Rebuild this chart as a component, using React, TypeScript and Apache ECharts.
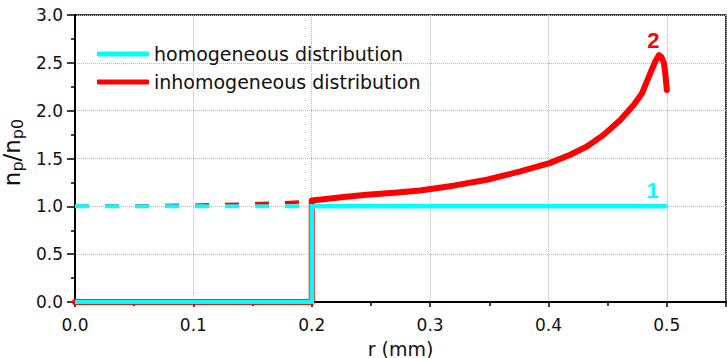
import React, { useEffect, useRef } from "react";
import * as echarts from "echarts";

// Homogeneous profile (curve 1): zero inside r < 0.2 mm, unity outside
const homR = [0, 0.2, 0.2, 0.5];
const homN = [0, 0, 1, 1];
const homDashR = [0, 0.2];
const homDashN = [1, 1];

// Inhomogeneous profile (curve 2)
const inhomR = [
  0, 0.2, 0.2, 0.21, 0.225, 0.2465, 0.27, 0.2916, 0.3198, 0.348, 0.3762,
  0.4009, 0.4184, 0.4325, 0.4466, 0.4607, 0.472, 0.479, 0.486, 0.4905, 0.4933,
  0.4955, 0.4975, 0.4988, 0.5,
];
const inhomN = [
  0, 0, 1.06, 1.075, 1.094, 1.12, 1.142, 1.165, 1.216, 1.278, 1.365, 1.452,
  1.539, 1.625, 1.747, 1.903, 2.059, 2.18, 2.39, 2.52, 2.58, 2.56, 2.5, 2.38,
  2.215,
];
const inhomDashR = [0, 0.05, 0.1, 0.15, 0.2];
const inhomDashN = [1.0, 1.005, 1.012, 1.025, 1.05];

// Curve number labels
const curveLabels = [
  { text: "1", r: 0.488, n: 1.17, color: "#00ffff" },
  { text: "2", r: 0.4886, n: 2.735, color: "#ff0000" },
];

const legendNames = ["homogeneous distribution", "inhomogeneous distribution"];

const pairs = (xs: number[], ys: number[]) => xs.map((x, i) => [x, ys[i]]);

const FONT = "DejaVu Sans";
const CYAN = "#00ffff";
const RED = "#ff0000";

export default function App() {
  const ref = useRef<HTMLDivElement>(null);

  useEffect(() => {
    document.body.style.margin = "0";
    document.body.style.overflow = "hidden";
    if (!ref.current) return;
    const chart = echarts.init(ref.current, null, { renderer: "svg" });

    const markLabel = (l: (typeof curveLabels)[number]) => ({
      silent: true,
      symbol: "circle",
      symbolSize: 1,
      itemStyle: { color: "transparent" },
      data: [
        {
          coord: [l.r, l.n],
          label: {
            show: true,
            position: "inside",
            formatter: l.text,
            color: l.color,
            fontFamily: "Liberation Sans",
            fontWeight: "bold",
            fontSize: 22,
          },
        },
      ],
    });

    chart.setOption({
      animation: false,
      backgroundColor: "#ffffff",
      grid: {
        left: 75,
        right: 1,
        top: 15,
        bottom: 56,
        outerBoundsMode: "none",
        containLabel: false,
        show: true,
        borderColor: "#000",
        borderWidth: 1.5,
        backgroundColor: "transparent",
      },
      legend: {
        data: legendNames,
        orient: "vertical",
        left: 92,
        top: 39,
        itemWidth: 52,
        itemHeight: 5,
        itemGap: 8,
        icon: "roundRect",
        textStyle: {
          fontFamily: FONT,
          fontSize: 19,
          lineHeight: 20,
          color: "#111",
        },
      },
      xAxis: {
        type: "value",
        min: 0,
        max: 0.55,
        interval: 0.1,
        name: "r (mm)",
        nameLocation: "middle",
        nameGap: 37,
        nameTextStyle: { fontFamily: FONT, fontSize: 19, color: "#111" },
        axisLine: { show: true, onZero: false, lineStyle: { color: "#000", width: 2 } },
        axisTick: { show: true, inside: false, length: 5, lineStyle: { color: "#000", width: 1.5 } },
        minorTick: { show: true, splitNumber: 2, length: 4, lineStyle: { color: "#000", width: 1.5 } },
        axisLabel: {
          margin: 14,
          fontFamily: FONT,
          fontSize: 17,
          color: "#111",
          formatter: (v: number) => v.toFixed(1),
          showMaxLabel: false,
        },
        splitLine: { show: true, lineStyle: { color: "#bbbbbb", type: "dotted", width: 1 } },
      },
      yAxis: {
        type: "value",
        min: 0,
        max: 3,
        interval: 0.5,
        name: "{a|n}{b|p}{a|/n}{b|p0}",
        nameLocation: "middle",
        nameGap: 38,
        nameRotate: 90,
        nameTextStyle: {
          padding: [0, 0, 0, 12],
          rich: {
            a: { fontFamily: FONT, fontSize: 23, lineHeight: 26, color: "#111", verticalAlign: "middle" },
            b: { fontFamily: FONT, fontSize: 16, lineHeight: 16, color: "#111", verticalAlign: "bottom" },
          },
        },
        axisLine: { show: true, onZero: false, lineStyle: { color: "#000", width: 2 } },
        axisTick: { show: true, inside: false, length: 8, lineStyle: { color: "#000", width: 1.5 } },
        minorTick: { show: true, splitNumber: 2, length: 4, lineStyle: { color: "#000", width: 1.5 } },
        axisLabel: {
          margin: 12,
          fontFamily: FONT,
          fontSize: 17,
          color: "#111",
          formatter: (v: number) => v.toFixed(1),
        },
        splitLine: { show: true, lineStyle: { color: "#bbbbbb", type: "dotted", width: 1 } },
      },
      series: [
        {
          name: "inhomogeneous dashed",
          type: "line",
          data: pairs(inhomDashR, inhomDashN),
          showSymbol: false,
          symbol: "none",
          lineStyle: { color: RED, width: 3.5, type: [14, 16] },
          z: 2,
        },
        {
          name: "homogeneous dashed",
          type: "line",
          data: pairs(homDashR, homDashN),
          showSymbol: false,
          symbol: "none",
          lineStyle: { color: CYAN, width: 4, type: [14, 16] },
          z: 3,
        },
        {
          name: legendNames[1],
          type: "line",
          data: pairs(inhomR, inhomN),
          showSymbol: false,
          symbol: "none",
          color: RED,
          lineStyle: { color: RED, width: 6, cap: "round", join: "round" },
          markPoint: markLabel(curveLabels[1]),
          z: 4,
        },
        {
          name: legendNames[0],
          type: "line",
          data: pairs(homR, homN),
          showSymbol: false,
          symbol: "none",
          color: CYAN,
          lineStyle: { color: CYAN, width: 4.5, cap: "butt", join: "miter" },
          markPoint: markLabel(curveLabels[0]),
          z: 5,
        },
      ],
    });

    return () => chart.dispose();
  }, []);

  return <div ref={ref} style={{ width: 727, height: 358 }} />;
}
